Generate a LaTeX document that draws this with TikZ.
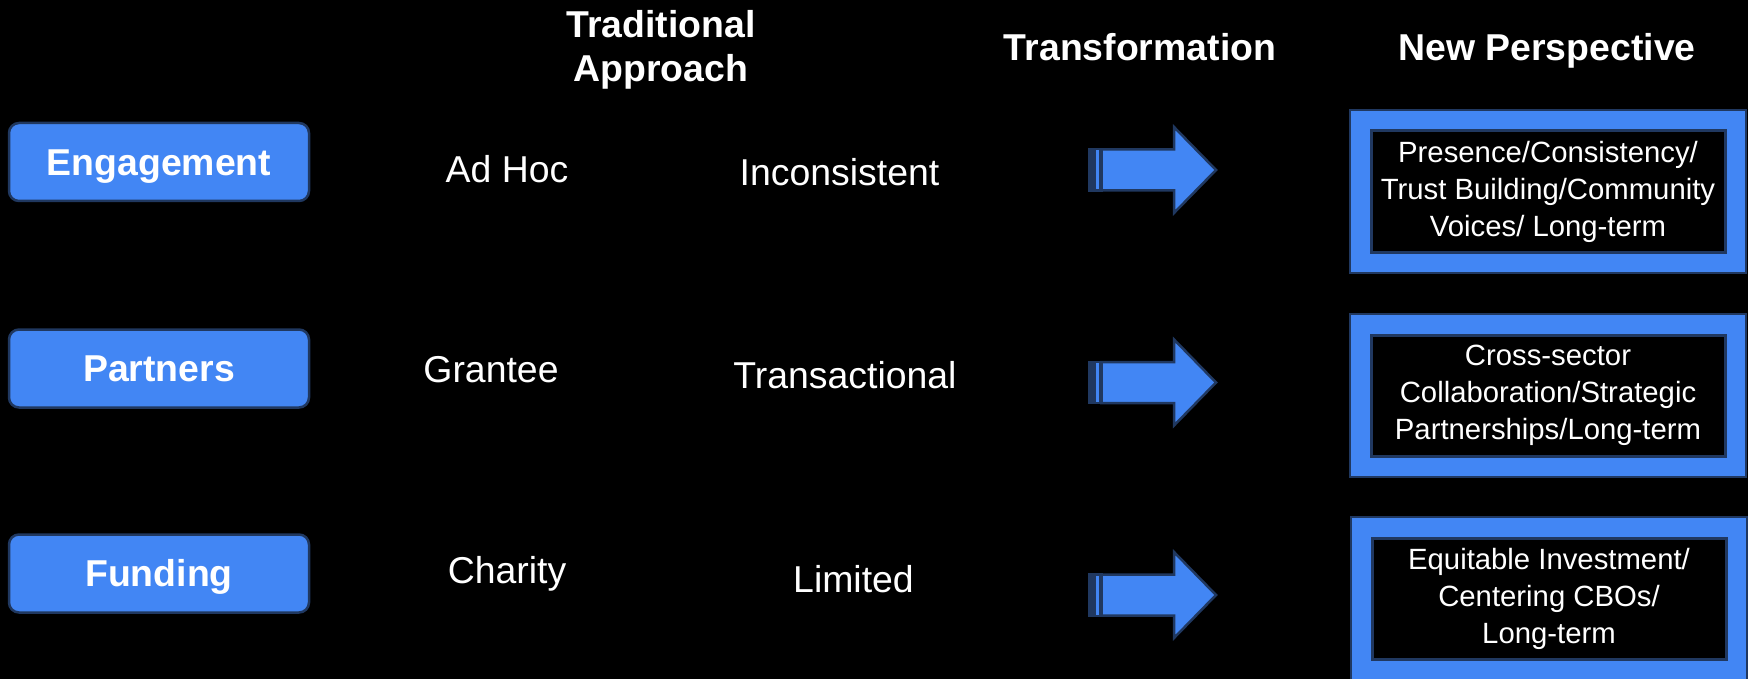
\documentclass[tikz,border=0pt]{standalone}
\usepackage{fontspec}
\setmainfont{Liberation Sans}
\definecolor{gblue}{RGB}{66,134,244}
\definecolor{navy}{RGB}{32,56,96}
\tikzset{
  catbox/.style={draw=navy, line width=2.5pt, fill=gblue, rounded corners=10pt,
    minimum width=300pt, minimum height=78pt, inner sep=0pt, text=white,
    font=\fontsize{37.4}{40}\selectfont\bfseries, text height=26.8pt, text depth=0pt},
  outerbox/.style={draw=navy, line width=2pt, fill=gblue, minimum width=396pt,
    minimum height=163pt, inner sep=0pt},
  innerbox/.style={draw=navy, line width=3pt, fill=black, minimum width=354pt,
    minimum height=121pt, inner sep=0pt, text=white, align=center,
    font=\fontsize{29.3}{37}\selectfont},
  headtxt/.style={text=white, inner sep=0pt, align=center,
    font=\fontsize{37.4}{43.5}\selectfont\bfseries},
  celltxt/.style={text=white, inner sep=0pt, anchor=base,
    font=\fontsize{37.4}{40}\selectfont},
  striparrow/.pic={
    \filldraw[fill=gblue, draw=navy, line width=2.5pt, line join=miter]
      (13.3,-20.5) -- (86,-20.5) -- (86,-43) -- (128,0) -- (86,43) -- (86,20.5)
      -- (13.3,20.5) -- cycle;
    \fill[navy] (0,-21.7) rectangle (14.5,21.7);
    \fill[gblue] (8,-19.5) rectangle (11.3,19.5);
  }
}
\begin{document}
\begin{tikzpicture}[x=1pt, y=-1pt]
\useasboundingbox (0,0) rectangle (1748,679);
\fill[black] (0,0) rectangle (1748,679);

% headers
\node[headtxt] (hTrad) at (661,50) {Traditional\\Approach};
\node[headtxt, anchor=base] (hTrans) at (1140,61) {Transformation};
\node[headtxt, anchor=base] (hNew) at (1547,61) {New Perspective};

% category boxes
\node[catbox] (eng) at (159,162) {Engagement};
\node[catbox] (par) at (159,368.5) {Partners};
\node[catbox] (fun) at (159,573.5) {Funding};

% cells
\node[celltxt] (adhoc) at (507,182.5) {Ad Hoc};
\node[celltxt] (incons) at (839.5,185.5) {Inconsistent};
\node[celltxt] (grant) at (491,382.5) {Grantee};
\node[celltxt] (trans) at (845,388.5) {Transactional};
\node[celltxt] (char) at (507,583.5) {Charity};
\node[celltxt] (lim) at (853.5,592.5) {Limited};

% arrows
\pic at (1088,170) {striparrow};
\pic at (1088,382.5) {striparrow};
\pic at (1088,595) {striparrow};

% new perspective boxes
\node[outerbox] (o1) at (1548,191.5) {};
\node[innerbox] (i1) at (o1.center) {Presence/Consistency/\\Trust Building/Community\\Voices/ Long-term};
\node[outerbox] (o2) at (1548,395.5) {};
\node[innerbox] (i2) at (o2.center) {Cross-sector\\Collaboration/Strategic\\Partnerships/Long-term};
\node[outerbox] (o3) at (1549,598.5) {};
\node[innerbox] (i3) at (o3.center) {Equitable Investment/\\Centering CBOs/\\Long-term};
\end{tikzpicture}
\end{document}
